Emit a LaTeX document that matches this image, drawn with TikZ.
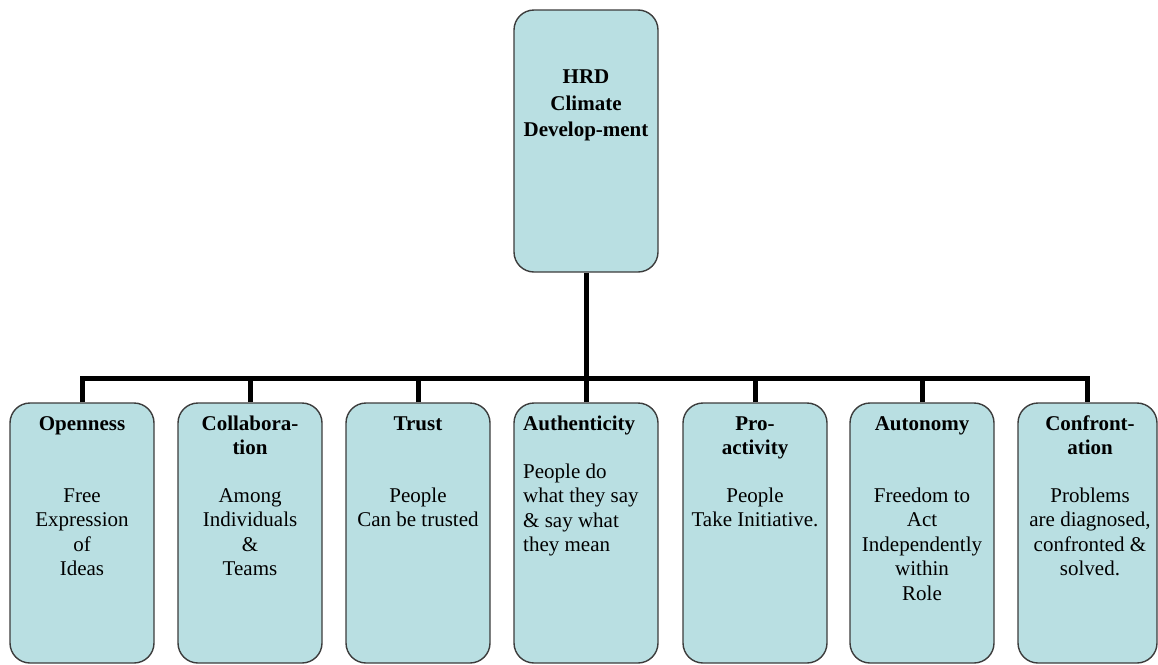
\documentclass[tikz,border=0pt]{standalone}
\usepackage{fontspec}
\setmainfont{Liberation Serif}
\definecolor{cardfill}{RGB}{185,223,226}
\definecolor{cardline}{RGB}{60,60,60}
\begin{document}
\begin{tikzpicture}[x=1pt,y=-1pt,
  card/.style={draw=cardline, line width=1.4pt, fill=cardfill, rounded corners=20pt,
    inner sep=0pt, minimum width=144pt, minimum height=260pt},
  wire/.style={line width=5pt, black, line join=miter},
  head/.style={font=\fontsize{21}{24.5}\selectfont\bfseries, align=center, anchor=base, inner sep=0pt},
  body/.style={font=\fontsize{21}{24.5}\selectfont, align=center, anchor=base, inner sep=0pt},
  lhead/.style={head, align=left, anchor=base west},
  lbody/.style={body, align=left, anchor=base west}]
\useasboundingbox (0,0) rectangle (1158,664);
\clip (0,0) rectangle (1158,664);

% root card (text nodes are placed by the baseline of their last line)
\node[card, minimum height=262pt] (root) at (586,141) {};
\node[head, font=\fontsize{21}{26.6}\selectfont\bfseries] (roottext) at (586,136.7) {HRD\\Climate\\Develop-ment};

% seven climate cards
\node[card] (c1) at (82,533) {};
\node[card] (c2) at (250,533) {};
\node[card] (c3) at (418,533) {};
\node[card] (c4) at (586,533) {};
\node[card] (c5) at (755,533) {};
\node[card] (c6) at (922,533) {};
\node[card, minimum width=139pt] (c7) at (1087.5,533) {};

% connectors
\coordinate (bus) at (586,378);
\draw[wire] (root.south) -- (bus);
\draw[wire] (c1.north) -- (c1.north |- bus) -- (c7.north |- bus) -- (c7.north);
\foreach \c in {c2,c3,c4,c5,c6}
  \draw[wire] (\c.north) -- (\c.north |- bus);

% titles
\node[head] (t1) at (82,430) {Openness};
\node[head] (t2) at (250,454.5) {Collabora-\\tion};
\node[head] (t3) at (418,430) {Trust};
\node[lhead] (t4) at (523,430) {Authenticity};
\node[head] (t5) at (755,454.5) {Pro-\\activity};
\node[head] (t6) at (922,430) {Autonomy};
\node[head] (t7) at (1090,454.5) {Confront-\\ation};

% descriptions
\node[body] (b1) at (82,575.5) {Free\\Expression\\of\\Ideas};
\node[body] (b2) at (250,575.5) {Among\\Individuals\\\&\\Teams};
\node[body] (b3) at (418,526.5) {People\\Can be trusted};
\node[lbody] (b4) at (523,551.5) {People do\\what they say\\\& say what\\they mean};
\node[body] (b5) at (755,526.5) {People\\Take Initiative.};
\node[body] (b6) at (922,600) {Freedom to\\Act\\Independently\\within\\Role};
\node[body] (b7) at (1090,575.5) {Problems\\are diagnosed,\\confronted \&\\solved.};
\end{tikzpicture}
\end{document}
